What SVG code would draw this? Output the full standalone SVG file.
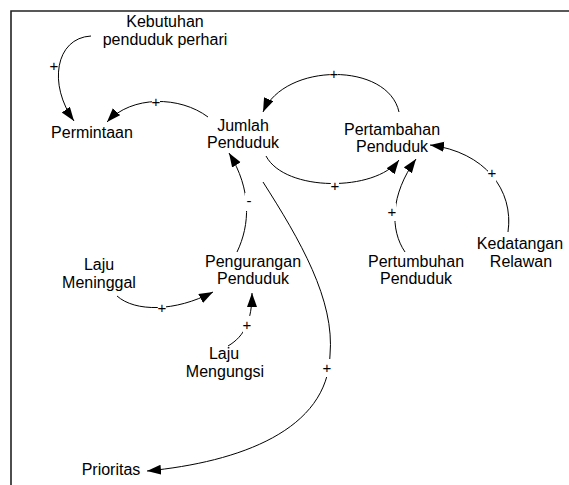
<svg xmlns="http://www.w3.org/2000/svg" width="569" height="485" viewBox="0 0 569 485">
  <style>
    .lbl { font-family: "Liberation Sans", Arial, sans-serif; font-size: 16px; fill: #000; text-anchor: middle; }
    .sign { font-family: "Liberation Sans", Arial, sans-serif; font-size: 15px; fill: #000; text-anchor: middle; }
    .link { fill: none; stroke: #000; stroke-width: 1; marker-end: url(#arrow); }
    .gap { fill: #fff; stroke: none; }
    .frame { fill: none; stroke: #222; stroke-width: 1.6; }
  </style>
  <defs>
    <marker id="arrow" markerUnits="userSpaceOnUse" markerWidth="15" markerHeight="11" refX="14" refY="5" orient="auto">
      <path d="M0,0 L14,5 L0,10 Z" fill="#000"/>
    </marker>
  </defs>

  <rect width="569" height="485" fill="#fff"/>

  <!-- frame: top and left edges only -->
  <path class="frame" d="M11,485 L11,11 L569,11"/>

  <!-- causal links -->
  <g id="connectors">
    <path class="link" d="M91,36 C55,38 48,85 74,121"/>
    <path class="link" d="M208,117 C180,96 132,95 107,122"/>
    <path class="link" d="M399,112 C388,62 285,62 263,112"/>
    <path class="link" d="M266,156 C285,192 375,192 399,160"/>
    <path class="link" d="M405,252 C390,230 390,195 416,159"/>
    <path class="link" d="M508,232 C514,190 485,152 430,145"/>
    <path class="link" d="M237,252 C250,225 252,190 229,153"/>
    <path class="link" d="M263,182 C300,240 335,300 330,355 C328,430 240,462 147,471"/>
    <path class="link" d="M117,296 C135,312 175,312 213,292"/>
    <path class="link" d="M228,346 C245,336 252,320 252,293"/>

    <!-- polarity signs -->
    <g id="signs">
      <rect class="gap" x="50" y="57" width="8" height="18"/><text class="sign" x="54" y="71">+</text>
      <rect class="gap" x="152" y="93" width="8" height="18"/><text class="sign" x="156" y="107">+</text>
      <rect class="gap" x="330" y="65" width="8" height="18"/><text class="sign" x="334" y="79">+</text>
      <rect class="gap" x="331" y="177" width="8" height="18"/><text class="sign" x="335" y="191">+</text>
      <rect class="gap" x="388" y="203" width="8" height="18"/><text class="sign" x="392" y="217">+</text>
      <rect class="gap" x="488" y="164" width="8" height="18"/><text class="sign" x="492" y="178">+</text>
      <rect class="gap" x="245" y="193" width="8" height="18"/><text class="sign" x="249" y="206">-</text>
      <rect class="gap" x="323" y="359" width="8" height="18"/><text class="sign" x="327" y="373">+</text>
      <rect class="gap" x="158" y="299" width="8" height="18"/><text class="sign" x="162" y="313">+</text>
      <rect class="gap" x="243" y="316" width="8" height="18"/><text class="sign" x="247" y="330">+</text>
    </g>
  </g>

  <!-- variables -->
  <g id="kebutuhan">
    <text class="lbl" x="165" y="27">Kebutuhan</text>
    <text class="lbl" x="165" y="45">penduduk perhari</text>
  </g>
  <g id="permintaan">
    <text class="lbl" x="92" y="138">Permintaan</text>
  </g>
  <g id="jumlah-penduduk">
    <text class="lbl" x="243" y="131">Jumlah</text>
    <text class="lbl" x="243" y="148">Penduduk</text>
  </g>
  <g id="pertambahan-penduduk">
    <text class="lbl" x="392" y="135">Pertambahan</text>
    <text class="lbl" x="392" y="152">Penduduk</text>
  </g>
  <g id="pengurangan-penduduk">
    <text class="lbl" x="253" y="267">Pengurangan</text>
    <text class="lbl" x="253" y="284">Penduduk</text>
  </g>
  <g id="laju-meninggal">
    <text class="lbl" x="99" y="270">Laju</text>
    <text class="lbl" x="99" y="288">Meninggal</text>
  </g>
  <g id="laju-mengungsi">
    <text class="lbl" x="224" y="359">Laju</text>
    <text class="lbl" x="225" y="377">Mengungsi</text>
  </g>
  <g id="pertumbuhan-penduduk">
    <text class="lbl" x="416" y="267">Pertumbuhan</text>
    <text class="lbl" x="416" y="284">Penduduk</text>
  </g>
  <g id="kedatangan-relawan">
    <text class="lbl" x="520" y="249">Kedatangan</text>
    <text class="lbl" x="521" y="267">Relawan</text>
  </g>
  <g id="prioritas">
    <text class="lbl" x="111" y="475">Prioritas</text>
  </g>
</svg>
